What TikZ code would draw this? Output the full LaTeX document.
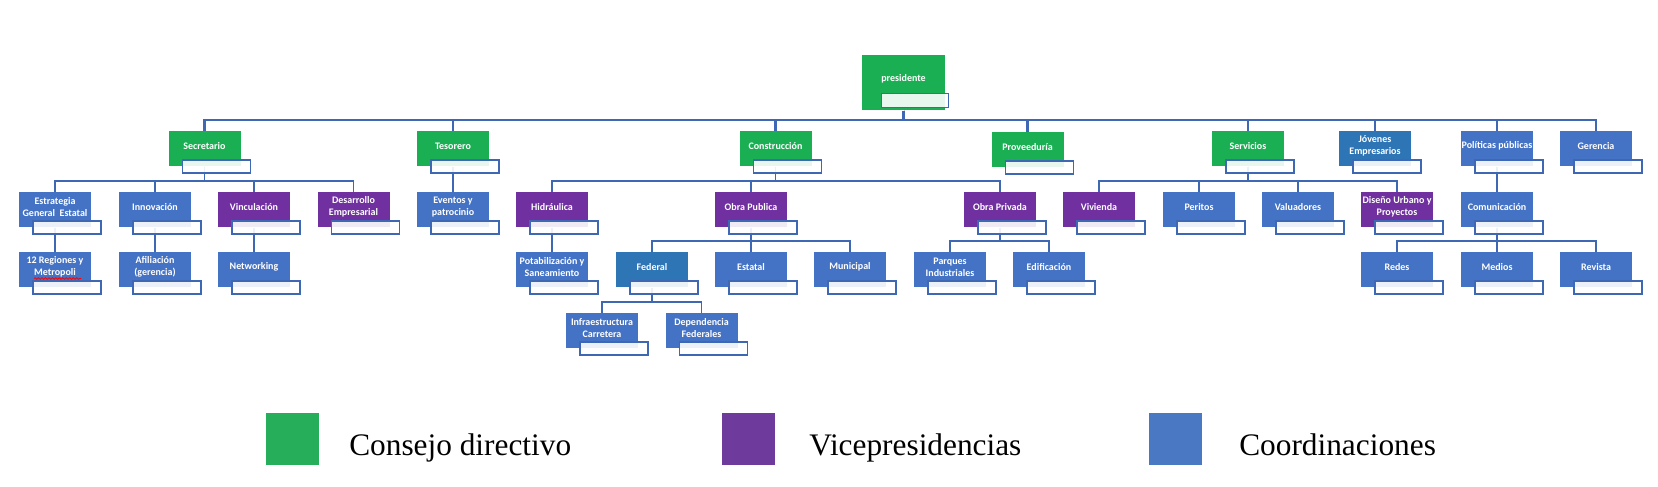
\documentclass[tikz,border=0pt]{standalone}
\usepackage{fontspec}
\setmainfont{Liberation Serif}
\newfontfamily\orgfont{Carlito}
\usetikzlibrary{backgrounds,decorations.pathmorphing}
\definecolor{ogreen}{RGB}{27,175,84}
\definecolor{opurple}{RGB}{112,48,160}
\definecolor{oblue}{RGB}{68,114,196}
\definecolor{oblueb}{RGB}{46,117,182}
\definecolor{lineblue}{RGB}{62,103,180}
\definecolor{lgreen}{RGB}{39,174,90}
\definecolor{lpurple}{RGB}{110,58,156}
\definecolor{lblue}{RGB}{74,120,194}
\tikzset{
  obox/.style={draw=none, fill=#1, minimum width=54pt, minimum height=26.25pt, inner sep=0pt},
  otext/.style={text=white, font=\orgfont\bfseries\fontsize{7.5pt}{9pt}\selectfont, align=center, inner sep=0pt},
  lbox/.style={draw=lineblue, line width=1.1pt, fill=white, fill opacity=0.9, minimum width=51pt, minimum height=10pt, inner sep=0pt},
  conn/.style={draw=lineblue, line width=1.3pt},
  topconn/.style={draw=lineblue, line width=1.6pt},
  legsq/.style={draw=none, fill=#1, minimum width=39.75pt, minimum height=39pt, inner sep=0pt},
  legtext/.style={font=\fontsize{23.5pt}{26pt}\selectfont, inner sep=0pt, text=black},
}
\newcommand\onode[5]{%
  \node[obox=#4, anchor=north] (#1) at (#2,#3) {};
  \node[otext] (#1-t) at (#2,#3+15) {#5};
  \node[lbox, anchor=north west] (#1-l) at ([xshift=10pt,yshift=5.6pt]#1.south west) {};
}
\begin{document}
\begin{tikzpicture}[x=0.75pt,y=-0.75pt]
\useasboundingbox (0,0) rectangle (1658,486);
% presidente
\node[obox=ogreen, minimum width=62.25pt, minimum height=41.25pt, anchor=north] (pres) at (903.5,55) {};
\node[otext] (pres-t) at (903.5,79) {presidente};
\node[lbox, minimum width=50.25pt, minimum height=10.5pt, anchor=north west] (pres-l) at (881,93) {};
% row 1
\onode{sec}{204.5}{131}{ogreen}{Secretario}
\onode{tes}{453}{131}{ogreen}{Tesorero}
\onode{con}{775.5}{131}{ogreen}{Construcción}
\onode{prov}{1027.5}{132}{ogreen}{Proveeduría}
\onode{serv}{1248}{131}{ogreen}{Servicios}
\onode{jov}{1375}{131}{oblueb}{Jóvenes\\Empresarios}
\onode{pol}{1497}{131}{oblue}{Políticas públicas}
\onode{ger}{1596}{131}{oblue}{Gerencia}
% row 2
\onode{est}{55}{192}{oblue}{Estrategia\\General~~Estatal}
\onode{inn}{155}{192}{oblue}{Innovación}
\onode{vin}{254}{192}{opurple}{Vinculación}
\onode{des}{353.5}{192}{opurple}{Desarrollo\\Empresarial}
\onode{eve}{453}{192}{oblue}{Eventos y\\patrocinio}
\onode{hid}{552}{192}{opurple}{Hidráulica}
\onode{obpu}{751}{192}{opurple}{Obra Publica}
\onode{obpr}{1000}{192}{opurple}{Obra Privada}
\onode{viv}{1099}{192}{opurple}{Vivienda}
\onode{per}{1199}{192}{oblue}{Peritos}
\onode{val}{1298}{192}{oblue}{Valuadores}
\onode{dis}{1397}{192}{opurple}{Diseño Urbano y\\Proyectos}
\onode{com}{1497}{192}{oblue}{Comunicación}
% row 3
\node[obox=oblue, anchor=north] (reg) at (55,252) {};
\node[otext] (reg-t) at (55,267) {12 Regiones y\\Metropoli};
\draw[red, line width=0.6pt, decorate, decoration={snake, amplitude=0.6pt, segment length=2.6pt}] (34,278.5) -- (81,278.5);
\node[lbox, anchor=north west] (reg-l) at ([xshift=10pt,yshift=5.6pt]reg.south west) {};
\onode{afi}{155}{252}{oblue}{Afiliación\\(gerencia)}
\onode{net}{254}{252}{oblue}{Networking}
\onode{pot}{552}{252}{oblue}{Potabilización y\\Saneamiento}
\onode{fed}{652}{252}{oblueb}{Federal}
\onode{esta}{751}{252}{oblue}{Estatal}
\onode{mun}{850}{252}{oblue}{Municipal}
\onode{par}{950}{252}{oblue}{Parques\\Industriales}
\onode{edi}{1049}{252}{oblue}{Edificación}
\onode{red}{1397}{252}{oblue}{Redes}
\onode{med}{1497}{252}{oblue}{Medios}
\onode{rev}{1596}{252}{oblue}{Revista}
% row 4
\onode{inf}{602}{313}{oblue}{Infraestructura\\Carretera}
\onode{dep}{701.5}{313}{oblue}{Dependencia\\Federales}
% bus levels
\coordinate (y1) at (0,120);
\coordinate (y2) at (0,181);
\coordinate (y3) at (0,241);
\coordinate (y4) at (0,302);
\begin{scope}[on background layer]
\foreach \c in {sec,tes,con,prov,serv,jov,pol,ger}
  \draw[topconn] (pres.south) -- (pres.south |- y1) -| (\c.north);
\foreach \c in {est,inn,vin,des}
  \draw[conn] (sec.south) -- (sec.south |- y2) -| (\c.north);
\foreach \c in {hid,obpu,obpr}
  \draw[conn] (con.south) -- (con.south |- y2) -| (\c.north);
\foreach \c in {viv,per,val,dis}
  \draw[conn] (serv.south) -- (serv.south |- y2) -| (\c.north);
\foreach \c in {fed,esta,mun}
  \draw[conn] (obpu.south) -- (obpu.south |- y3) -| (\c.north);
\foreach \c in {par,edi}
  \draw[conn] (obpr.south) -- (obpr.south |- y3) -| (\c.north);
\foreach \c in {red,med,rev}
  \draw[conn] (com.south) -- (com.south |- y3) -| (\c.north);
\foreach \c in {inf,dep}
  \draw[conn] (fed.south) -- (fed.south |- y4) -| (\c.north);
\draw[conn] (tes.south) -- (eve.north);
\draw[conn] (pol.south) -- (com.north);
\draw[conn] (est.south) -- (reg.north);
\draw[conn] (inn.south) -- (afi.north);
\draw[conn] (vin.south) -- (net.north);
\draw[conn] (hid.south) -- (pot.north);
\end{scope}
% legend
\node[legsq=lgreen] (lg1) at (292.5,439) {};
\node[legtext, anchor=base west] (lt1) at (349,455) {Consejo directivo};
\node[legsq=lpurple] (lg2) at (748.5,439) {};
\node[legtext, anchor=base west] (lt2) at (809,455) {Vicepresidencias};
\node[legsq=lblue] (lg3) at (1175.5,439) {};
\node[legtext, anchor=base west] (lt3) at (1239,455) {Coordinaciones};
\end{tikzpicture}
\end{document}
